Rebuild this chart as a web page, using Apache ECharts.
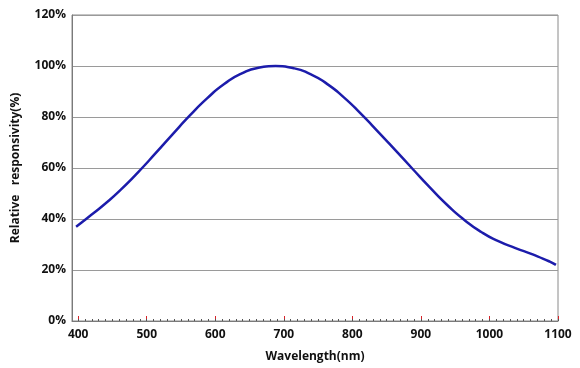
<!DOCTYPE html>
<html>
<head>
<meta charset="utf-8">
<script src="https://cdn.jsdelivr.net/npm/echarts@6/dist/echarts.min.js"></script>
<style>html,body{margin:0;padding:0;background:#fff}#c{width:580px;height:368px}</style>
</head>
<body>
<div id="c"></div>
<script>
const wavelengths = [397,413,438,463,488,513,538,563,588,613,638,663,688,713,738,763,788,813,838,863,888,913,938,963,988,1013,1038,1063,1088,1097];
const responsivity = [37,40.3,45.7,51.7,58.5,65.8,73.3,80.6,87.3,92.9,97,99.3,100,99.2,96.9,93,87.6,81.1,74.1,66.9,59.6,52.4,45.6,39.7,34.9,31.3,28.6,26.1,23.3,22];
const xTicks = [400,500,600,700,800,900,1000,1100];
const yTicks = [0,20,40,60,80,100,120];
const minorTicks = [];
for (let v = 400; v <= 1100; v += 10) minorTicks.push(v);

const font = 'Open Sans';
const chart = echarts.init(document.getElementById('c'));
chart.setOption({
  animation: false,
  grid: {left: 72, right: 22, top: 15, bottom: 44, show: true, borderColor: '#8a8a8a', borderWidth: 1},
  xAxis: [{
    type: 'value', min: 391, max: 1100,
    name: 'Wavelength(nm)', nameLocation: 'middle', nameGap: 30,
    nameTextStyle: {fontFamily: font, fontWeight: 'bold', fontSize: 12, color: '#111'},
    axisLine: {show: true, lineStyle: {color: '#7a7a7a', width: 1}},
    axisTick: {show: true, inside: true, length: 5, customValues: xTicks, lineStyle: {color: '#d8232a', width: 1}},
    axisLabel: {customValues: xTicks, margin: 8, formatter: v => String(v), fontFamily: font, fontWeight: 'bold', fontSize: 12, color: '#111'},
    splitLine: {show: false}
  }, {
    type: 'value', min: 391, max: 1100, position: 'bottom',
    axisLine: {show: false},
    axisTick: {show: true, inside: true, length: 2, customValues: minorTicks, lineStyle: {color: '#555', width: 1}},
    axisLabel: {show: false},
    splitLine: {show: false}
  }],
  yAxis: {
    type: 'value', min: 0, max: 120, interval: 20,
    name: 'Relative   responsivity(%)', nameLocation: 'middle', nameGap: 50,
    nameTextStyle: {fontFamily: font, fontWeight: 'bold', fontSize: 12, color: '#111'},
    axisLine: {show: true, lineStyle: {color: '#7a7a7a'}},
    axisTick: {show: false},
    axisLabel: {margin: 6, formatter: '{value}%', fontFamily: font, fontWeight: 'bold', fontSize: 12, color: '#111'},
    splitLine: {show: true, lineStyle: {color: '#9a9a9a', width: 1}}
  },
  series: [{
    type: 'line', smooth: 0.6, showSymbol: false, xAxisIndex: 0,
    data: wavelengths.map((w, i) => [w, responsivity[i]]),
    lineStyle: {color: '#1c1cab', width: 2.5}
  }]
});
</script>
</body>
</html>
